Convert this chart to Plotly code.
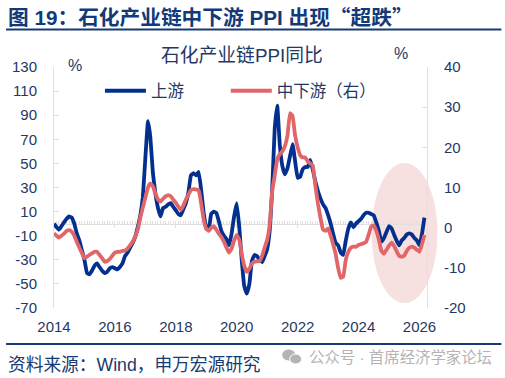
import pandas as pd
import plotly.graph_objects as go

upstream = [0,-3,-5,-2,1,4,6,5,0,-8,-14,-22,
-30,-41,-42,-39,-35,-33,-36,-39,-41,-40,-37,-36,
-37,-38,-36,-33,-27,-24,-20,-16,-11,-3,7,22,
55,85,72,42,25,13,6,13,14,16,17,14,
11,8,7,12,17,26,40,42,40,43,28,9,
-3,-4,8,10,9,2,-6,-10,-13,-18,-8,6,
17,-3,-30,-52,-58,-50,-31,-26,-27,-30,-32,-27,
-21,-5,28,79,98,65,48,41,46,56,66,52,
38,39,45,47,47,53,45,35,27,21,16,13,
7,0,-8,-16,-18,-24,-26,-14,-4,1,-3,0,
2,4,7,9,9,8,7,1,-6,-15,-12,-7,
-2,-4,-9,-14,-18,-14,-12,-9,-8,-9,-12,-14,
-18,-8,5]
midstream = [-1.4,-2,-2.5,-2,-1.5,-0.8,-0.6,-1,-2,-3.5,-5,-6.3,
-7.6,-7.2,-6.8,-6.4,-6,-6,-6.8,-7.6,-8.5,-8.3,-7.8,-7,
-6.2,-6,-6,-5.8,-5.7,-5.2,-4.4,-3.5,-2.2,-0.5,2.5,5,
7.5,10,11,10.3,8.5,7,6.5,7.2,7.8,8.1,7.8,7,
6.2,5.2,4.4,5.5,7,8.2,9.4,9.6,9.5,9.4,6,2,
-0.3,-0.8,0,0.3,-0.5,-1.5,-2.3,-3.5,-5,-6.2,-5.2,-3.2,
-1.8,-3,-6.5,-9.5,-11,-10.2,-9,-8.5,-8.4,-8.3,-7,-5,
-3,1,9,13,17,18.3,19,20.3,23,28.5,27.8,23,
20,18,17.5,17.5,16.5,16,15.5,10.5,6,2.5,-0.5,-0.8,
-0.2,-2,-4,-6.5,-10,-12.5,-12.2,-8,-6,-5,-4.7,-4.8,
-4.3,-4.1,-3.9,-3.5,-1.8,0.3,0.6,-0.8,-3,-5.8,-6.5,-5.5,
-4.5,-3.7,-4.5,-5.8,-7,-7.2,-7,-5.8,-5,-4.7,-5,-5.5,
-6,-4,-1.8]
months = pd.date_range("2014-01-01", periods=len(upstream), freq="MS")
left_ticks = [130,110,90,70,50,30,10,-10,-30,-50,-70]
right_ticks = [40,30,20,10,0,-10,-20]
year_ticks = ["2014-01-01","2016-01-01","2018-01-01","2020-01-01","2022-01-01","2024-01-01","2026-01-01"]
year_labels = ["2014","2016","2018","2020","2022","2024","2026"]
title_text = '图 19：石化产业链中下游 PPI 出现<span style="font-family:Noto Sans CJK SC">“超跌”</span>'
chart_title = "石化产业链PPI同比"
source_text = "资料来源：Wind，申万宏源研究"
watermark = "公众号 · 首席经济学家论坛"

W, H = 505, 378
L, R, T, B = 54, 427.5, 67, 308
NAVY = "#1f3864"
AXIS = "#e0e0e0"
LATIN = "Liberation Sans, Noto Sans CJK SC"
def px(x): return (x - L) / (R - L)
def py(y): return (B - y) / (B - T)

fig = go.Figure()
# carriers of the overlay axes that cross at zero; only their axes are drawn
for axis in ("x2", "x3"):
    fig.add_trace(go.Scatter(x=months, y=upstream, xaxis=axis, mode="none", showlegend=False, hoverinfo="skip"))
fig.add_trace(go.Scatter(x=months, y=upstream, name="上游", mode="lines", legend="legend",
    line=dict(color="#03308f", width=3.8, shape="spline", smoothing=0.3)))
fig.add_trace(go.Scatter(x=months, y=midstream, name="中下游（右）", mode="lines", yaxis="y2", legend="legend2",
    line=dict(color="#e0666a", width=3.8, shape="spline", smoothing=0.3)))

def label(text, x, y, size, color=NAVY, anchor="center", family=LATIN, bold=False):
    if bold:
        text = "<b>" + text + "</b>"
    fig.add_annotation(text=text, x=px(x), y=py(y), xref="paper", yref="paper", showarrow=False,
        xanchor=anchor, yanchor="middle", font=dict(size=size, color=color, family=family))

label(title_text, 6, 16, 20.7, "#123a78", "left", bold=True)
label(chart_title, 242, 56, 18.8)
label("%", 75, 65, 16)
label("%", 401, 54, 16)
label(source_text, 6, 365, 17.7, "#173a70", "left")
label(watermark, 307, 357, 15.4, "#b4b4b4", "left")

def line(y):
    fig.add_shape(type="line", xref="paper", yref="paper", x0=px(6), x1=px(502), y0=py(y), y1=py(y),
        line=dict(color="#173a70", width=2))
line(29.5)
line(344)
fig.add_shape(type="circle", xref="paper", yref="paper", layer="below", x0=px(372), x1=px(438),
    y0=py(303), y1=py(163), fillcolor="#f6e0e0", line=dict(width=0))
for x0, x1, y0, y1 in [(282, 296, 349, 361), (290, 302, 354, 364)]:
    fig.add_shape(type="circle", xref="paper", yref="paper", x0=px(x0), x1=px(x1), y0=py(y1), y1=py(y0),
        fillcolor="#b4b4b4", line=dict(color="white", width=1))

legend_common = dict(orientation="h", y=py(91), xanchor="left", yanchor="middle",
    bgcolor="rgba(0,0,0,0)", itemwidth=41, font=dict(size=16.5, color=NAVY),
    itemclick=False, itemdoubleclick=False)
zero_axis = dict(type="date", overlaying="x", matches="x", anchor="free", position=70 / 200,
    side="bottom", showticklabels=False, showgrid=False, zeroline=False, tickmode="linear",
    tick0="2014-01-01", tickwidth=1, layer="below traces")
fig.update_layout(
    width=W, height=H, autosize=False,
    margin=dict(l=L, r=W - R, t=T, b=H - B, pad=0),
    paper_bgcolor="white", plot_bgcolor="rgba(0,0,0,0)",
    font=dict(family=LATIN, color=NAVY, size=15),
    showlegend=True,
    legend=dict(x=px(100), **legend_common),
    legend2=dict(x=px(226), **legend_common),
    xaxis=dict(type="date", range=["2014-01-01", "2026-04-01"], tickmode="array",
        tickvals=year_ticks, ticktext=year_labels, showgrid=False, zeroline=False,
        showline=False, ticks="", ticklabelstandoff=8, tickfont=dict(size=15, color=NAVY)),
    xaxis2=dict(dtick="M1", ticks="inside", ticklen=3, tickcolor=AXIS,
        showline=True, linecolor=AXIS, linewidth=1, **zero_axis),
    xaxis3=dict(dtick="M24", ticks="outside", ticklen=3, tickcolor=AXIS, showline=False, **zero_axis),
    yaxis=dict(range=[-70, 130], tickmode="array", tickvals=left_ticks,
        ticktext=[str(v) for v in left_ticks], showgrid=False, zeroline=False, layer="below traces",
        showline=True, linecolor=AXIS, linewidth=1, ticks="inside", ticklen=5, tickcolor=AXIS,
        ticklabelstandoff=13, tickfont=dict(size=15, color=NAVY)),
    yaxis2=dict(range=[-20, 40], overlaying="y", side="right", tickmode="array", tickvals=right_ticks,
        ticktext=[str(v) for v in right_ticks], showgrid=False, zeroline=False, layer="below traces",
        showline=True, linecolor=AXIS, linewidth=1, ticks="inside", ticklen=5, tickcolor=AXIS,
        ticklabelstandoff=13, tickfont=dict(size=15, color=NAVY)),
)
fig.write_html("out.html", config=dict(displayModeBar=False),
    post_script="document.body.style.margin='0';document.documentElement.style.overflow='hidden';")
